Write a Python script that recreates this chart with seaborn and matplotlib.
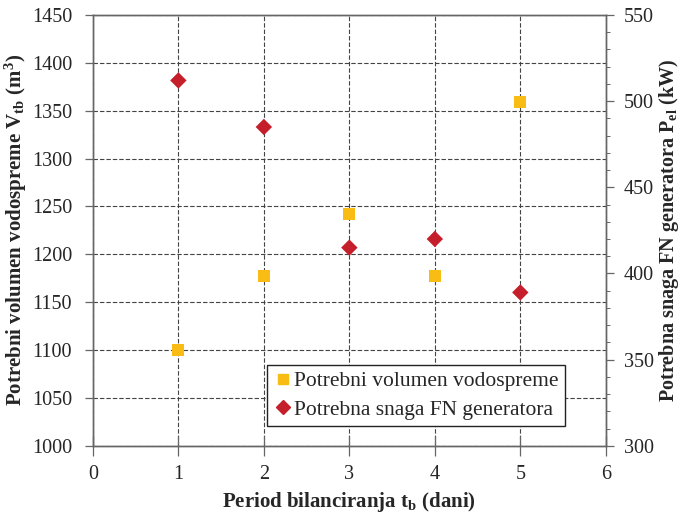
import matplotlib
matplotlib.use("Agg")
import matplotlib.pyplot as plt
from matplotlib.ticker import MultipleLocator
from matplotlib.lines import Line2D
import seaborn as sns
import pandas as pd

# Balancing period (days)
period = [1, 2, 3, 4, 5]
# Required reservoir volume (m3)
volume = [1100, 1177, 1242, 1177, 1359]
# Required PV generator power (kW)
power = [512, 485, 415, 420, 389]

vol_label = "Potrebni volumen vodospreme"
pow_label = "Potrebna snaga FN generatora"

sns.set_theme(style="white")
plt.rcParams["font.family"] = ["Liberation Serif", "DejaVu Serif"]
plt.rcParams["mathtext.fontset"] = "custom"
plt.rcParams["mathtext.rm"] = "Liberation Serif"
plt.rcParams["mathtext.bf"] = "Liberation Serif:bold"
plt.rcParams["mathtext.it"] = "Liberation Serif:italic"

df = pd.DataFrame({"t": period, "V": volume, "P": power})

fig = plt.figure(figsize=(6.83, 5.16), dpi=100)
ax = fig.add_axes([0.136, 0.136, 0.751, 0.835])
ax2 = ax.twinx()

yellow = "#F8BC14"
red = "#C51F2B"

sns.scatterplot(data=df, x="t", y="V", ax=ax, marker="s", s=75, color=yellow,
                edgecolor="none", zorder=5)
sns.scatterplot(data=df, x="t", y="P", ax=ax2, marker="D", s=70, color=red,
                edgecolor="none", zorder=5)

ax.set_xlim(0, 6)
ax.set_ylim(1000, 1450)
ax2.set_ylim(300, 550)
ax.xaxis.set_major_locator(MultipleLocator(1))
ax.yaxis.set_major_locator(MultipleLocator(50))
ax2.yaxis.set_major_locator(MultipleLocator(50))
ax2.yaxis.set_minor_locator(MultipleLocator(10))

ax.grid(True, which="major", axis="both", color="#444444", linestyle=(0, (4, 1.8)),
        linewidth=0.8)
ax.set_axisbelow(True)

for a in (ax, ax2):
    for s in a.spines.values():
        s.set_color("#666666")
        s.set_linewidth(1.0)

ax.tick_params(axis="y", which="major", direction="out", length=6, width=0.9,
               color="#666666", labelsize=14.5, pad=9, left=True)
ax.tick_params(axis="x", which="major", direction="inout", length=14, width=0.9,
               color="#666666", labelsize=14.5, pad=7, bottom=True)
ax2.tick_params(axis="y", which="major", direction="out", length=6, width=0.9,
                color="#666666", labelsize=14.5, pad=7, right=True)
ax2.tick_params(axis="y", which="minor", direction="out", length=3, width=0.7,
                color="#666666", right=True)

ax.set_xlabel(r"Period bilanciranja t$_{\mathbf{b}}$ (dani)", fontsize=15,
              fontweight="bold", labelpad=4)
ax.set_ylabel(r"Potrebni volumen vodospreme V$_{\mathbf{tb}}$ (m$^{\mathbf{3}}$)",
              fontsize=15, fontweight="bold", labelpad=2)
ax2.set_ylabel(r"Potrebna snaga FN generatora P$_{\mathbf{el}}$ (kW)", fontsize=14.5,
               fontweight="bold", labelpad=2)

handles = [
    Line2D([], [], marker="s", linestyle="none", color=yellow, markersize=7),
    Line2D([], [], marker="D", linestyle="none", color=red, markersize=7),
]
leg = ax2.legend(handles, [vol_label, pow_label], loc="lower right",
                 bbox_to_anchor=(0.92, 0.045), fontsize=15.5, frameon=True,
                 fancybox=False, framealpha=1, edgecolor="#222222",
                 handletextpad=0.05, handlelength=0.9, borderpad=0.3,
                 labelspacing=0.4, borderaxespad=0)
leg.get_frame().set_linewidth(1.0)

fig.savefig("out.png", dpi=100)
